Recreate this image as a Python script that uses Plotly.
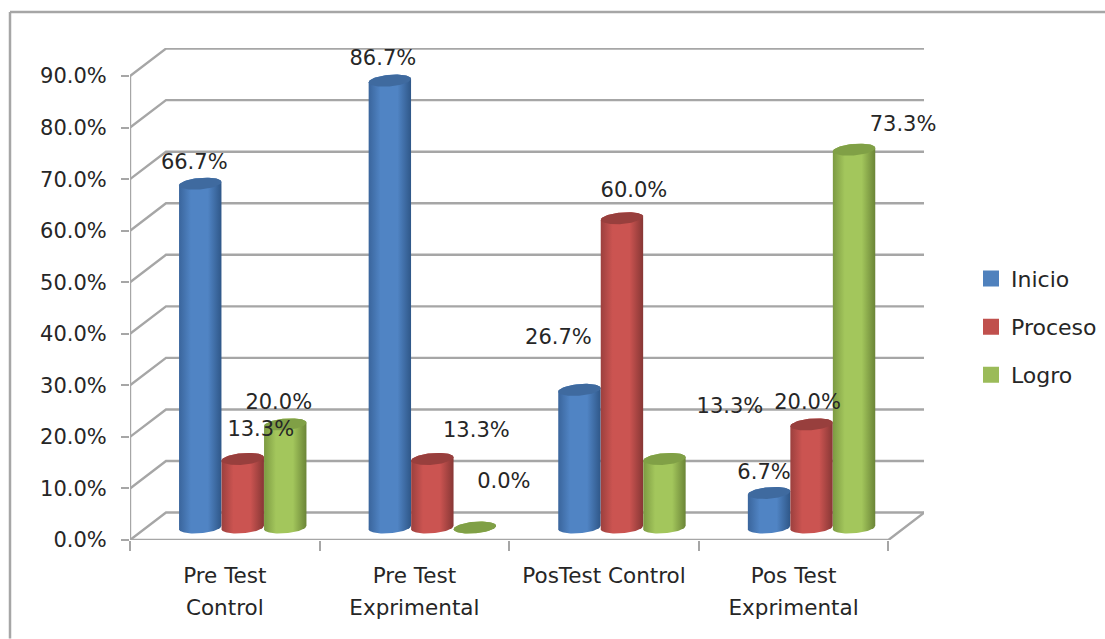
import numpy as np
import plotly.graph_objects as go

categories_line1 = ["Pre Test", "Pre Test", "PosTest Control", "Pos Test"]
categories_line2 = ["Control", "Exprimental", "", "Exprimental"]
series_names = ["Inicio", "Proceso", "Logro"]
inicio = [66.7, 86.7, 26.7, 6.7]
proceso = [13.3, 13.3, 60.0, 20.0]
logro = [20.0, 0.0, 13.3, 73.3]
y_ticks = [0, 10, 20, 30, 40, 50, 60, 70, 80, 90]
y_tick_labels = ["0.0%", "10.0%", "20.0%", "30.0%", "40.0%", "50.0%", "60.0%", "70.0%", "80.0%", "90.0%"]

# styling / geometry (pixels per unit)
W, H = 1105, 639
L, R, T, B = 130, 181, 48, 98.5
PX_X = 189.6
PX_Y = 5.16
DEPTH_X, DEPTH_Y = 36 / PX_X, 27.5 / PX_Y
BAR_W = 42.5 / PX_X
BAR_START = 49 / PX_X
BASE_Y = 12.5 / PX_Y
ELL_A, ELL_B, TILT = 21.2, 5.8, 0.08
GRID = "#a6a6a6"
TEXT = "#262626"
FONT = "DejaVu Sans"
FS = 21
FS_CAT = 21.5
FS_LEG = 22
LABEL_DY = 1
colors = [
    dict(left="#3a659c", mid="#5084c4", right="#2f5788", top="#3f6a9f", leg="#4f81bd"),
    dict(left="#9c403e", mid="#cb5451", right="#873735", top="#983f3d", leg="#c0504d"),
    dict(left="#7c9a42", mid="#a3c65c", right="#6b8537", top="#80a046", leg="#9bbb59"),
]
label_offsets = [
    [(-6, -21), (18, -29), (-6.5, -22)],
    [(-7, -22), (44, -28), (29, -46)],
    [(-21, -52), (12, -28), (65.5, -52)],
    [(-5, -20), (-4, -22), (49, -25)],
]
x_max = (W - L - R) / PX_X
y_max = (H - T - B) / PX_Y
values = [inicio, proceso, logro]

fig = go.Figure()

# back wall, side wall and floor lines, projected from the tick values
gx, gy = [], []
for v in y_ticks:
    gx += [0, DEPTH_X, x_max, None]
    gy += [v, v + DEPTH_Y, v + DEPTH_Y, None]
gx += [0, 0, None, 0, 4, DEPTH_X + 4, None]
gy += [0, 90, None, 0, 0, DEPTH_Y, None]
fig.add_trace(go.Scatter(x=gx, y=gy, mode="lines", line=dict(color=GRID, width=2.4),
                         showlegend=False, hoverinfo="skip", cliponaxis=False))


def ellipse(cx, cy, t):
    px = ELL_A * np.cos(t)
    py = ELL_B * np.sin(t) + TILT * px
    return cx + px / PX_X, cy + py / PX_Y


theta_top = np.linspace(0, np.pi, 40)
theta_bottom = np.linspace(np.pi, 2 * np.pi, 40)
theta_all = np.linspace(0, 2 * np.pi, 80)

label_x, label_y, label_text = [], [], []
for c in range(len(categories_line1)):
    for s in range(len(series_names)):
        v = values[s][c]
        cx = c + BAR_START + BAR_W * (s + 0.5)
        col = colors[s]
        bx, by = ellipse(cx, BASE_Y, theta_bottom)
        tx, ty = ellipse(cx, BASE_Y + v, theta_top)
        fig.add_trace(go.Scatter(
            x=np.r_[bx, tx, bx[0]], y=np.r_[by, ty, by[0]], mode="lines", fill="toself",
            line=dict(width=0), showlegend=False, hoverinfo="skip",
            fillgradient=dict(type="horizontal",
                              colorscale=[[0, col["left"]], [0.28, col["mid"]],
                                          [0.68, col["mid"]], [1, col["right"]]])))
        ex, ey = ellipse(cx, BASE_Y + v, theta_all)
        fig.add_trace(go.Scatter(x=ex, y=ey, mode="lines", fill="toself", fillcolor=col["top"],
                                 line=dict(width=0), showlegend=False, hoverinfo="skip"))
        ox, oy = label_offsets[c][s]
        label_x.append(cx + ox / PX_X)
        label_y.append(BASE_Y + v - (oy + LABEL_DY) / PX_Y)
        label_text.append(f"{v:.1f}%")

fig.add_trace(go.Scatter(x=label_x, y=label_y, text=label_text, mode="text",
                         textposition="middle center", textfont=dict(family=FONT, size=FS, color=TEXT),
                         showlegend=False, hoverinfo="skip", cliponaxis=False))

for s, name in enumerate(series_names):
    fig.add_trace(go.Scatter(x=[None], y=[None], mode="markers", name=name, legendgroup=name,
                             marker=dict(symbol="square", size=16, color=colors[s]["leg"])))

# second row of category labels lives on an overlaid axis
fig.add_trace(go.Scatter(x=[0], y=[0], xaxis="x2", mode="markers", marker=dict(opacity=0),
                         showlegend=False, hoverinfo="skip"))

centers = [c + 0.5 for c in range(4)]
fig.update_layout(
    width=W, height=H, autosize=False,
    margin=dict(l=L, r=R, t=T, b=B, autoexpand=False),
    paper_bgcolor="white", plot_bgcolor="white", hovermode=False,
    font=dict(family=FONT, size=FS, color=TEXT),
    xaxis=dict(range=[0, x_max], showgrid=False, zeroline=False, showline=False,
               tickmode="array", tickvals=centers, ticktext=categories_line1, ticks="",
               ticklabelstandoff=20, tickfont=dict(family=FONT, size=FS_CAT, color=TEXT),
               minor=dict(tickmode="array", tickvals=[0, 1, 2, 3, 4], ticks="outside", ticklen=10,
                          tickwidth=2, tickcolor=GRID, showgrid=False)),
    xaxis2=dict(range=[0, x_max], overlaying="x", anchor="y", side="bottom", showgrid=False,
                zeroline=False, showline=False, tickmode="array", tickvals=centers,
                ticktext=categories_line2, ticks="", ticklabelstandoff=52,
                tickfont=dict(family=FONT, size=FS_CAT, color=TEXT)),
    yaxis=dict(range=[0, y_max], showgrid=False, zeroline=False, showline=False,
               tickmode="array", tickvals=y_ticks, ticktext=y_tick_labels, ticks="outside",
               ticklen=8, tickwidth=2, tickcolor=GRID, ticklabelstandoff=10,
               tickfont=dict(family=FONT, size=FS, color=TEXT)),
    legend=dict(x=(971 - L) / (W - L - R), y=(H - B - 258) / (H - T - B), xanchor="left", yanchor="top",
                tracegroupgap=16.5, font=dict(family=FONT, size=FS_LEG, color=TEXT),
                itemwidth=30, bgcolor="rgba(0,0,0,0)"),
    shapes=[
        dict(type="line", xref="paper", yref="paper", layer="below",
             x0=(10 - L) / (W - L - R), x1=(W - L) / (W - L - R),
             y0=(H - B - 12) / (H - T - B), y1=(H - B - 12) / (H - T - B),
             line=dict(color=GRID, width=2.5)),
        dict(type="line", xref="paper", yref="paper", layer="below",
             x0=(10 - L) / (W - L - R), x1=(10 - L) / (W - L - R),
             y0=(H - B - 12) / (H - T - B), y1=(H - B - H) / (H - T - B),
             line=dict(color=GRID, width=2.5)),
    ],
)

fig.write_html("out.html", config=dict(displayModeBar=False),
               post_script="document.body.style.margin='0';document.body.style.overflow='hidden';")
